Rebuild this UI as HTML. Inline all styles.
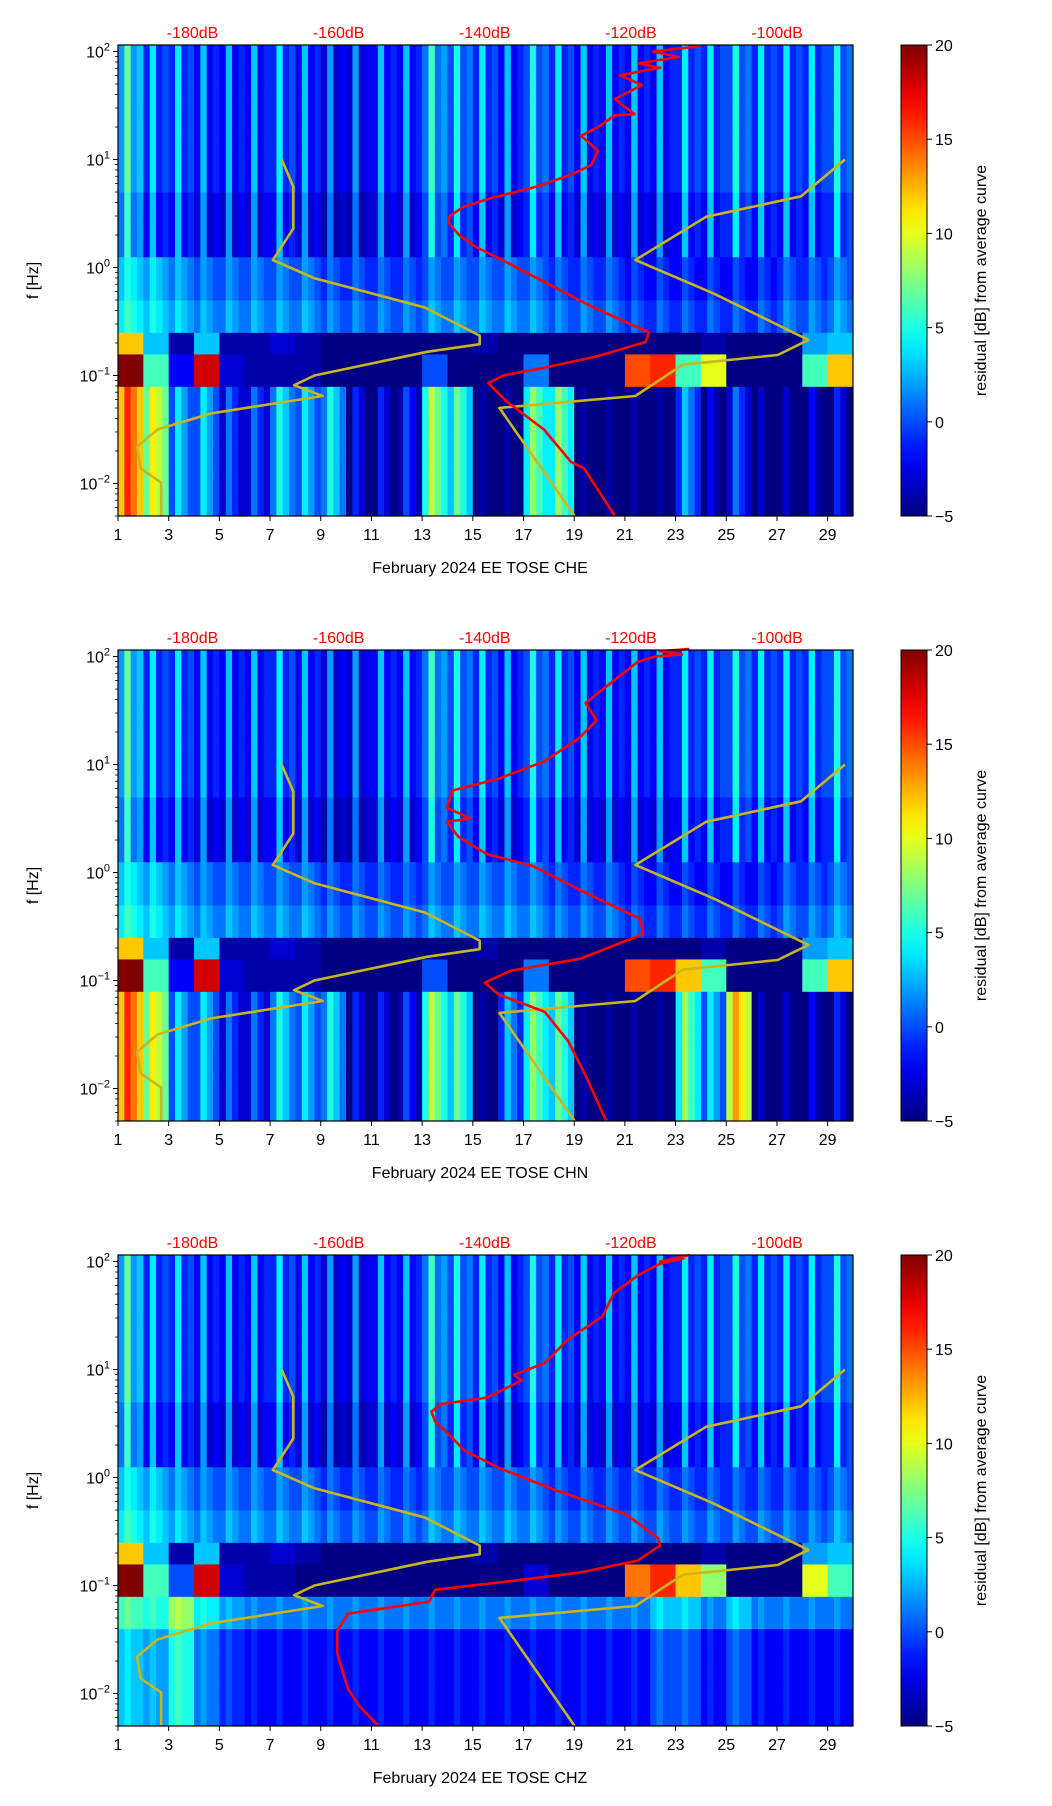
<!DOCTYPE html>
<html><head><meta charset="utf-8">
<style>
html,body{margin:0;padding:0;background:#fff;}
svg{display:block;font-family:"Liberation Sans","DejaVu Sans",sans-serif;}
</style></head>
<body>
<svg id="fig" width="1052" height="1806" viewBox="0 0 1052 1806" xmlns="http://www.w3.org/2000/svg"></svg>
<script>
// ---- data ----
const dayTicks = [1,3,5,7,9,11,13,15,17,19,21,23,25,27,29];
const dbTicks = [-180,-160,-140,-120,-100];
const cbTicks = [20,15,10,5,0,-5];
const panelTitles = ["February 2024 EE TOSE  CHE","February 2024 EE TOSE  CHN","February 2024 EE TOSE  CHZ"];
// per-day residual levels per frequency region
const hi1 = [4,1,1,0,0,0,1,0,-1,-1,0,0,3,2,1,0,2,1,0,0,0,0,1,1,2,1,1,1,2];
const mid1 = [4,3,2,1,1,1,1,1,0,0,0,0,1,1,1,1,1,0,0,0,-1,-1,-1,-1,-1,-1,0,0,1];
const gapU1 = [12,3,-4,3,-4,-4,-3,-4,-5,-5,-5,-5,-5,-5,-4,-5,-5,-5,-5,-5,-5,-5,-5,-4,-5,-5,-5,2,3];
const gapL1 = [20,6,-2,18,-3,-4,-4,-4,-5,-5,-5,-5,0,-5,-5,-5,1,-5,-5,-5,15,16,6,10,-5,-5,-5,6,12];
const lo1 = [15,10,3,3,0,0,4,3,4,-2,-2,-1,8,6,-5,-5,7,7,-5,-5,-5,-5,2,-3,0,-4,-4,-3,-2];
const hi2 = [4,1,1,0,0,0,1,0,-1,-1,0,0,3,2,1,0,2,1,0,0,0,0,1,1,2,1,1,1,2];
const mid2 = [4,3,2,1,1,1,1,1,0,0,0,0,1,1,1,1,1,0,0,0,-1,-1,-1,-1,-1,-1,0,0,1];
const gapU2 = [12,3,-4,3,-4,-4,-3,-4,-5,-5,-5,-5,-5,-5,-4,-5,-5,-5,-5,-5,-5,-5,-5,-4,-5,-5,-5,2,3];
const gapL2 = [20,6,-2,18,-3,-4,-4,-4,-5,-5,-5,-5,0,-5,-5,-5,1,-5,-5,-5,15,16,12,6,-5,-5,-5,6,12];
const lo2 = [15,10,3,3,0,0,4,3,4,-2,-2,-1,8,6,-5,2,7,6,-5,-5,-5,-5,7,3,12,-4,-4,-3,-2];
const hi3 = [4,1,1,0,0,0,1,0,-1,-1,0,0,3,2,1,0,2,1,0,0,0,0,1,1,2,1,1,1,2];
const mid3 = [4,3,2,1,1,1,1,1,0,0,0,0,1,1,1,1,1,0,0,0,0,0,0,0,0,0,0,0,1];
const gapU3 = [12,3,-4,3,-4,-4,-3,-4,-5,-5,-5,-5,-5,-5,-4,-5,-5,-5,-5,-5,-5,-5,-5,-4,-5,-5,-5,2,3];
const gapL3 = [20,6,0,18,-3,-4,-4,-5,-5,-5,-5,-5,-5,-5,-5,-5,-3,-5,-5,-5,14,16,12,8,-5,-5,-5,10,6];
const lo3 = [3,2,5,1,-1,-2,-2,-2,-2,-2,-2,-2,-2,-2,-2,-2,-2,-2,-2,-2,-2,0,0,-2,0,-2,-2,-2,-2];
// red curves: dB and log10(f)
const red1Db = [-122.2,-126.4,-128.2,-131.9,-137.0,-139.5,-137.5,-131.9,-124.5,-118.0,-117.5,-118.9,-125.4,-132.8,-137.9,-141.2,-143.5,-144.9,-144.9,-143.0,-139.3,-132.8,-128.2,-125.4,-124.5,-126.8,-124.5,-122.2,-119.5,-122.2,-118.5,-121.5,-116.0,-119.0,-113.4,-117.0,-110.5];
const red1Lf = [-2.3,-1.86,-1.80,-1.50,-1.24,-1.07,-1.0,-0.93,-0.82,-0.69,-0.6,-0.56,-0.36,-0.10,0.08,0.19,0.30,0.41,0.47,0.56,0.64,0.75,0.86,0.95,1.08,1.22,1.30,1.41,1.42,1.56,1.69,1.78,1.85,1.89,1.95,2.0,2.05];
const red2Db = [-123.4,-126.2,-128.6,-131.8,-138.1,-140.0,-136.5,-127.0,-118.3,-118.7,-127.0,-133.4,-139.7,-143.6,-145.2,-142.0,-145.2,-144.4,-138.1,-131.8,-127.0,-124.7,-126.2,-122.3,-119.1,-116.8,-113.0,-116.0,-112.0];
const red2Lf = [-2.3,-1.88,-1.56,-1.29,-1.13,-1.02,-0.91,-0.80,-0.57,-0.43,-0.16,0.06,0.17,0.33,0.47,0.5,0.6,0.76,0.87,1.03,1.25,1.41,1.57,1.78,1.95,2.0,2.02,2.05,2.07];
const red3Db = [-154.7,-157.1,-158.7,-160.2,-160.2,-158.7,-147.6,-146.8,-136.5,-127.0,-119.1,-116.0,-116.3,-120.7,-130.2,-138.1,-142.8,-145.2,-146.8,-147.3,-146.0,-139.7,-134.9,-136.0,-131.8,-128.6,-123.9,-122.3,-119.1,-116.0,-112.8,-116.0,-112.0];
const red3Lf = [-2.29,-2.12,-1.96,-1.63,-1.42,-1.26,-1.15,-1.04,-0.96,-0.88,-0.77,-0.63,-0.56,-0.34,-0.12,0.09,0.25,0.42,0.52,0.61,0.68,0.74,0.90,0.95,1.06,1.28,1.49,1.71,1.87,1.98,2.03,2.0,2.06];
// yellow reference curves (same on all panels)
const yelADb = [-167.8,-166.2,-166.2,-169.0,-163.3,-148.2,-140.7,-140.7,-147.9,-163.3,-166.1,-162.2,-177.4,-184.8,-187.6,-187.1,-184.3,-184.3];
const yelALf = [1.0,0.75,0.36,0.07,-0.10,-0.37,-0.63,-0.71,-0.78,-1.0,-1.09,-1.19,-1.35,-1.50,-1.66,-1.86,-1.99,-2.3];
const yelBDb = [-90.7,-96.7,-109.7,-119.4,-108.7,-95.7,-99.9,-112.9,-119.4,-138.0,-127.7];
const yelBLf = [1.0,0.66,0.47,0.07,-0.24,-0.67,-0.81,-0.9,-1.19,-1.30,-2.3];

const panels = [
 {top:45, hi:hi1, mid:mid1, gu:gapU1, gl:gapL1, lo:lo1, rd:red1Db, rf:red1Lf},
 {top:650, hi:hi2, mid:mid2, gu:gapU2, gl:gapL2, lo:lo2, rd:red2Db, rf:red2Lf},
 {top:1255, hi:hi3, mid:mid3, gu:gapU3, gl:gapL3, lo:lo3, rd:red3Db, rf:red3Lf}
];
// ---- layout ----
const NS="http://www.w3.org/2000/svg";
const svg=document.getElementById('fig');
const AX_L=118, AX_W=735, AX_H=471, CB_L=901, CB_W=26;
const XMIN=1, XMAX=30, LMIN=Math.log10(0.005), LMAX=Math.log10(115);
const DBMIN=-190.2, DBMAX=-89.6;
function mk(tag,attrs,parent){const e=document.createElementNS(NS,tag);for(const k in attrs)e.setAttribute(k,attrs[k]);(parent||svg).appendChild(e);return e;}
function jet(v){let t=(v+5)/25;t=Math.max(0,Math.min(1,t));const c=x=>Math.round(255*Math.max(0,Math.min(1,x)));
 return `rgb(${c(1.5-Math.abs(4*t-3))},${c(1.5-Math.abs(4*t-2))},${c(1.5-Math.abs(4*t-1))})`;}
const colShapeHi=[-2,3,-2,-1];
const colShapeLo=[-3,1,-1,-3];

panels.forEach((p,pi)=>{
 const top=p.top;
 const xs=d=>AX_L+(d-XMIN)/(XMAX-XMIN)*AX_W;
 const ys=l=>top+(LMAX-l)/(LMAX-LMIN)*AX_H;
 const xdb=db=>AX_L+(db-DBMIN)/(DBMAX-DBMIN)*AX_W;
 const g=mk('g',{});
 
 
 const hm=mk('g',{},g);
 
 
 const rowStep=0.1;
 for(let l=LMIN;l<LMAX;l+=rowStep){
  const lc=l+rowStep/2;
  let arr, rowOff=0, shape=colShapeHi;
  if(lc>0.08){arr=p.hi; rowOff = lc>0.65?0:-1;}
  else if(lc>-0.6){arr=p.mid; rowOff = lc<-0.35?1:0; shape=[-1,1,0,-1];}
  else if(lc>-0.82){arr=p.gu; shape=[0,0,0,0];}
  else if(lc>-1.07){arr=p.gl; shape=[0,0,0,0];}
  else {arr=p.lo; shape=colShapeLo; if(pi===2){shape=[0,1,0,0]; if(lc>-1.45) rowOff=3;}}
  const y0=ys(Math.min(l+rowStep,LMAX)), y1=ys(l);
  for(let d=0; d<arr.length; d++){
   for(let k=0;k<4;k++){
    const x0=xs(1+d+k/4), x1=xs(1+d+(k+1)/4);
    const r=mk('rect',{x:x0.toFixed(2),y:y0.toFixed(2),width:(x1-x0+0.4).toFixed(2),height:(y1-y0+0.4).toFixed(2),fill:jet(arr[d]+shape[k]+rowOff)},hm);
    
    
   }
  }
 }
 // yellow curves
 [[yelADb,yelALf],[yelBDb,yelBLf]].forEach(([ds,ls],ci)=>{
  const pts=ds.map((v,i)=>xdb(v).toFixed(1)+','+ys(ls[i]).toFixed(1)).join(' ');
  const pl=mk('polyline',{points:pts,fill:'none',stroke:'#c8b61c','stroke-width':2.6,'stroke-linejoin':'round'},g);
  
  
 });
 // red curve
 const rpts=p.rd.map((v,i)=>xdb(v).toFixed(1)+','+ys(p.rf[i]).toFixed(1)).join(' ');
 const rl=mk('polyline',{points:rpts,fill:'none',stroke:'#f00','stroke-width':2.6,'stroke-linejoin':'round'},g);
 
 
 // frame
 const fr=mk('rect',{x:AX_L,y:top,width:AX_W,height:AX_H,fill:'none',stroke:'#000','stroke-width':1.2},g);
 
 
 // x ticks
 dayTicks.forEach(d=>{
  const x=xs(d);
  mk('line',{x1:x,y1:top+AX_H,x2:x,y2:top+AX_H+5,stroke:'#000','stroke-width':1},g);
  const t=mk('text',{x:x,y:top+AX_H+24,'text-anchor':'middle','font-size':16,fill:'#000'},g);
  t.textContent=d;
  
  
 });
 const xt=mk('text',{x:480,y:top+AX_H+57,'text-anchor':'middle','font-size':16,fill:'#000'},g);
 xt.textContent=panelTitles[pi];
 
 
 // top dB ticks
 dbTicks.forEach(db=>{
  const t=mk('text',{x:xdb(db),y:top-7,'text-anchor':'middle','font-size':16,fill:'#f00'},g);
  t.textContent=db+'dB';
  
  
 });
 // y ticks
 for(let e=-2;e<=2;e++){
  const y=ys(e);
  mk('line',{x1:AX_L-5,y1:y,x2:AX_L,y2:y,stroke:'#000','stroke-width':1},g);
  const t=mk('text',{x:AX_L-8,y:y+6,'text-anchor':'end','font-size':16,fill:'#000'},g);
  t.textContent='10';
  const s=mk('tspan',{dy:-7,'font-size':11},t);
  s.textContent=(e<0?'\u2212':'')+Math.abs(e);
  
  
 }
 for(let e=-3;e<=2;e++)for(let m=2;m<=9;m++){
  const l=e+Math.log10(m); if(l<LMIN||l>LMAX) continue;
  const y=ys(l); mk('line',{x1:AX_L-3,y1:y,x2:AX_L,y2:y,stroke:'#000','stroke-width':0.8},g);
 }
 const yt=mk('text',{x:38,y:top+AX_H/2,'text-anchor':'middle','font-size':16,fill:'#000',transform:`rotate(-90 38 ${top+AX_H/2})`},g);
 yt.textContent='f [Hz]';
 
 
 // colorbar
 const gid='cbg'+pi;
 const defs=mk('defs',{},g);
 const lg=mk('linearGradient',{id:gid,x1:0,y1:1,x2:0,y2:0},defs);
 for(let i=0;i<=20;i++){mk('stop',{offset:i/20,'stop-color':jet(-5+25*i/20)},lg);}
 const cb=mk('rect',{x:CB_L,y:top,width:CB_W,height:AX_H,fill:`url(#${gid})`,stroke:'#000','stroke-width':1},g);
 
 
 cbTicks.forEach(v=>{
  const y=top+AX_H-(v+5)/25*AX_H;
  mk('line',{x1:CB_L+CB_W,y1:y,x2:CB_L+CB_W+5,y2:y,stroke:'#000','stroke-width':1},g);
  const t=mk('text',{x:CB_L+CB_W+8,y:y+6,'font-size':16,fill:'#000'},g);
  t.textContent=v<0?'\u2212'+Math.abs(v):v;
  
  
 });
 const ct=mk('text',{x:986,y:top+AX_H/2,'text-anchor':'middle','font-size':16,fill:'#000',transform:`rotate(-90 986 ${top+AX_H/2})`},g);
 ct.textContent='residual [dB] from average curve';
 
 
});
</script>
</body></html>
